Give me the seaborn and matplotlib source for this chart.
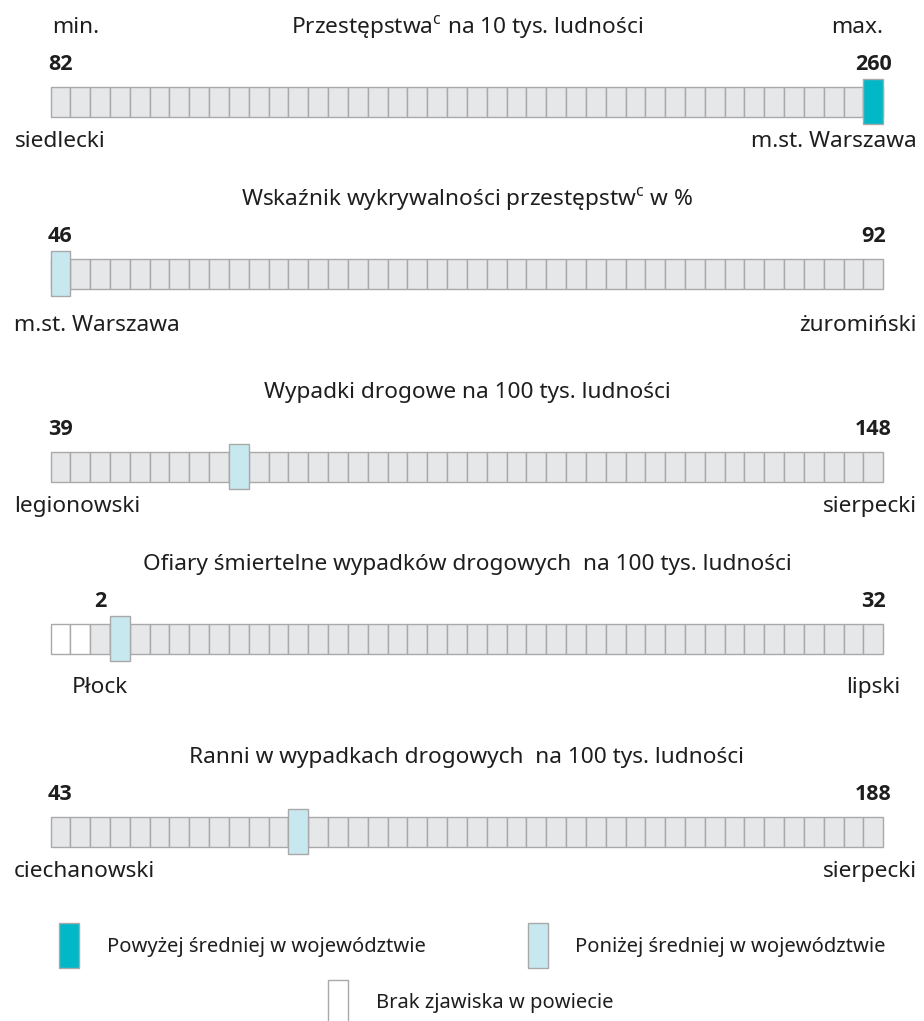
import numpy as np
import pandas as pd
import matplotlib
matplotlib.use("Agg")
import matplotlib.pyplot as plt
from matplotlib.patches import Rectangle
import seaborn as sns

# ---------------- data ----------------
titles = [
    "Przestępstwa$^{\\mathregular{c}}$ na 10 tys. ludności",
    "Wskaźnik wykrywalności przestępstw$^{\\mathregular{c}}$ w %",
    "Wypadki drogowe na 100 tys. ludności",
    "Ofiary śmiertelne wypadków drogowych  na 100 tys. ludności",
    "Ranni w wypadkach drogowych  na 100 tys. ludności",
]
min_values = [82, 46, 39, 2, 43]
max_values = [260, 92, 148, 32, 188]
min_names = ["siedlecki", "m.st. Warszawa", "legionowski", "Płock", "ciechanowski"]
max_names = ["m.st. Warszawa", "żuromiński", "sierpecki", "lipski", "sierpecki"]
highlight_index = [41, 0, 9, 3, 12]
highlight_class = ["above", "below", "below", "below", "below"]
empty_count = [0, 0, 0, 2, 0]
n_cells = 42
legend_labels = ["Powyżej średniej w województwie", "Poniżej średniej w województwie",
                 "Brak zjawiska w powiecie"]

# ---------------- style ----------------
sns.set_theme(style="white")
plt.rcParams["font.family"] = ["Noto Sans", "DejaVu Sans"]

W, H = 924, 1021
fig = plt.figure(figsize=(W / 100, H / 100), dpi=100)
fig.patch.set_facecolor("white")

TXT = "#1e1e1e"
EDGE = "#a9a9a9"
colors = {"normal": "#e6e7e9", "none": "#ffffff", "above": "#00b8c8", "below": "#c8e8ef"}
FS = 16.3
BOLD_FAMILY = ["Open Sans", "Lato", "DejaVu Sans"]

BAR_L, BAR_R = 50.5, 883.3
CELL = (BAR_R - BAR_L) / n_cells
row_tops = [87, 259, 452, 624, 817]
name_offsets = [60, 72, 60, 69, 60]

def fx(x):
    return x / W

def fy(y):
    return 1 - y / H

renderer = fig.canvas.get_renderer()

for r in range(len(titles)):
    T = row_tops[r]
    ax = fig.add_axes([fx(BAR_L), fy(T + 37), (BAR_R - BAR_L) / W, 45 / H])
    cells = np.arange(n_cells)
    status = np.where(cells < empty_count[r], "none", "normal")
    df = pd.DataFrame({"cell": cells, "h": np.ones(n_cells), "status": status})
    sns.barplot(data=df, x="cell", y="h", hue="status", palette=colors, dodge=False,
                width=1.0, edgecolor=EDGE, linewidth=1.0, legend=False, ax=ax)
    for p in ax.patches:
        p.set_clip_on(False)
    hi = highlight_index[r]
    ax.bar(hi, 1.5, bottom=-7 / 30, width=1.0, color=colors[highlight_class[r]],
           edgecolor=EDGE, linewidth=1.0, zorder=5, clip_on=False)
    ax.set_xlim(-0.5, n_cells - 0.5)
    ax.set_ylim(-7 / 30, 1 + 8 / 30)
    ax.axis("off")

    # title
    fig.text(fx((BAR_L + BAR_R) / 2), fy(T - 54), titles[r], ha="center", va="baseline",
             fontsize=FS, color=TXT)
    # numbers
    cmin = BAR_L + (empty_count[r] + 0.5) * CELL
    cmax = BAR_L + (n_cells - 0.5) * CELL
    fig.text(fx(cmin), fy(T - 17), str(min_values[r]), ha="center", va="baseline",
             fontsize=15.5, fontweight="bold", family=BOLD_FAMILY, color=TXT)
    fig.text(fx(cmax), fy(T - 17), str(max_values[r]), ha="center", va="baseline",
             fontsize=15.5, fontweight="bold", family=BOLD_FAMILY, color=TXT)
    # names
    yb = fy(T + name_offsets[r])
    t = fig.text(fx(cmin), yb, min_names[r], ha="center", va="baseline",
                 fontsize=FS, color=TXT)
    w = t.get_window_extent(renderer).width
    if cmin - w / 2 < 14:
        t.set_ha("left")
        t.set_x(fx(14))
    t = fig.text(fx(cmax), yb, max_names[r], ha="center", va="baseline",
                 fontsize=FS, color=TXT)
    w = t.get_window_extent(renderer).width
    if cmax + w / 2 > 917:
        t.set_ha("right")
        t.set_x(fx(917))

# min / max headers
fig.text(fx(52), fy(33), "min.", ha="left", va="baseline", fontsize=FS, color=TXT)
fig.text(fx(BAR_R), fy(33), "max.", ha="right", va="baseline", fontsize=FS, color=TXT)

# legend
legend_items = [
    (59, 923, colors["above"], 107, 952, legend_labels[0]),
    (528, 923, colors["below"], 575, 952, legend_labels[1]),
    (328, 980, colors["none"], 376, 1008, legend_labels[2]),
]
for bx, by, col, tx, ty, lab in legend_items:
    fig.add_artist(Rectangle((fx(bx), fy(by + 45)), 20 / W, 45 / H, transform=fig.transFigure,
                             facecolor=col, edgecolor=EDGE, linewidth=1.0))
    fig.text(fx(tx), fy(ty), lab, ha="left", va="baseline", fontsize=14.5, color=TXT)

fig.savefig("out.png", dpi=100, facecolor="white")
